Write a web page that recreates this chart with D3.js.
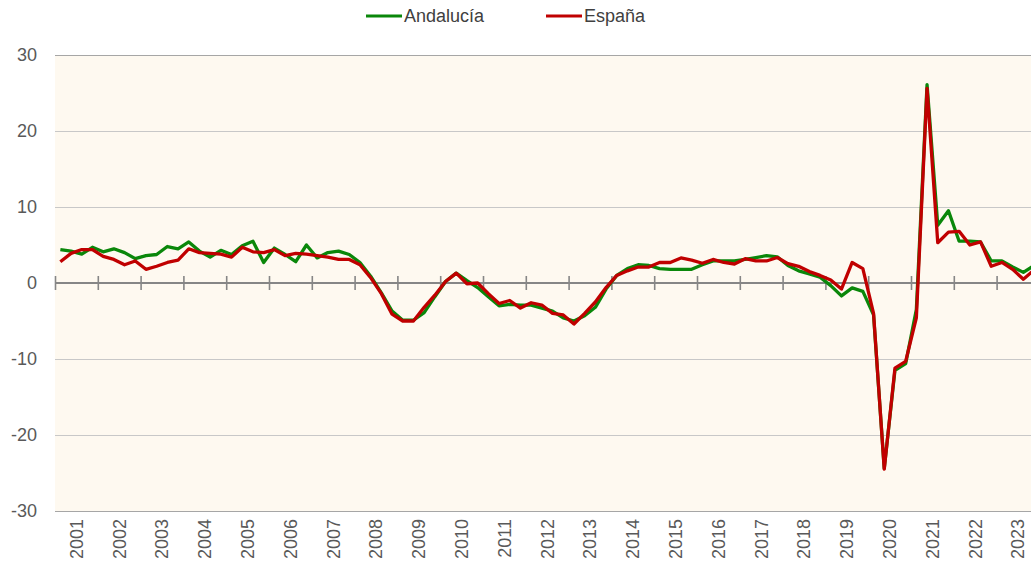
<!DOCTYPE html>
<html>
<head>
<meta charset="utf-8">
<script src="https://cdn.jsdelivr.net/npm/d3@7"></script>
<style>
  body { margin: 0; background: #fff; }
  svg { display: block; font-family: "Liberation Sans", Arial, sans-serif; }
</style>
</head>
<body>
<svg id="chart"></svg>
<script>
const years = d3.range(2001, 2024);
const yTicks = [-30, -20, -10, 0, 10, 20, 30];

// quarterly growth, 2001Q1 .. 2023Q4
const andalucia = [
  4.4, 4.2, 3.8, 4.7,   4.1, 4.5, 4.0, 3.2,   3.6, 3.75, 4.8, 4.5,
  5.4, 4.2, 3.4, 4.3,   3.75, 4.9, 5.5, 2.7,  4.6, 3.75, 2.8, 5.0,
  3.3, 4.0, 4.2, 3.75,  2.7, 0.9, -1.3, -3.7, -4.9, -4.9, -3.9, -1.8,
  0.2, 1.3, 0.3, -0.6,  -1.8, -3.0, -2.8, -2.9, -2.9, -3.3, -3.7, -4.6,
  -5.0, -4.3, -3.2, -0.8, 1.0, 1.9, 2.4, 2.3,  1.9, 1.8, 1.8, 1.8,
  2.4, 2.9, 2.9, 2.9,   3.1, 3.35, 3.6, 3.45, 2.3, 1.6, 1.2, 0.75,
  -0.35, -1.7, -0.65, -1.1, -4.2, -24.4, -11.5, -10.6, -3.5, 26.1, 7.6, 9.5,
  5.5, 5.5, 5.4, 2.9,   2.9, 2.1, 1.4, 2.3
];
const espana = [
  2.8, 3.9, 4.4, 4.4,   3.5, 3.1, 2.4, 2.9,   1.8, 2.2, 2.7, 3.0,
  4.5, 4.0, 3.9, 3.8,   3.4, 4.7, 4.1, 4.0,   4.4, 3.6, 3.9, 3.8,
  3.6, 3.4, 3.1, 3.1,   2.4, 0.7, -1.4, -4.1, -5.0, -5.0, -3.2, -1.6,
  0.2, 1.3, -0.1, 0.0,  -1.4, -2.7, -2.3, -3.3, -2.6, -2.9, -4.0, -4.2,
  -5.4, -4.0, -2.5, -0.6, 1.0, 1.6, 2.1, 2.1,  2.7, 2.7, 3.3, 3.0,
  2.6, 3.1, 2.7, 2.5,   3.2, 2.9, 2.9, 3.35,  2.55, 2.2, 1.5, 1.0,
  0.4, -0.8, 2.7, 1.9,  -4.0, -24.5, -11.2, -10.3, -4.6, 25.6, 5.3, 6.7,
  6.8, 5.0, 5.4, 2.2,   2.7, 1.8, 0.5, 1.7
];

const series = [
  { name: 'Andalucía', values: andalucia, color: '#0a870a' },
  { name: 'España', values: espana, color: '#c00000' }
];

const width = 1031;
const height = 571;
const margin = { top: 55, left: 55, bottom: 60 };
const plotRight = margin.left + years.length * 42.8;

const svg = d3.select('#chart')
  .attr('width', width)
  .attr('height', height);

const x = d3.scaleLinear()
  .domain([0, years.length * 4])
  .range([margin.left, plotRight]);

const y = d3.scaleLinear()
  .domain([-30, 30])
  .range([511, margin.top]);

// plot background
svg.append('rect')
  .attr('x', margin.left)
  .attr('y', y(30))
  .attr('width', plotRight - margin.left)
  .attr('height', y(-30) - y(30))
  .attr('fill', '#fef9f0');

// y axis + gridlines
const yAxis = svg.append('g')
  .attr('transform', `translate(${margin.left},0)`)
  .call(d3.axisLeft(y)
    .tickValues(yTicks)
    .tickFormat(d => String(d))
    .tickSize(-(plotRight - margin.left))
    .tickPadding(18));
yAxis.select('.domain').remove();
yAxis.selectAll('.tick line')
  .attr('stroke', d => (d === 30 || d === -30) ? '#a6a6a6' : '#c8c8c8')
  .attr('stroke-width', 1.2)
  .style('display', d => d === 0 ? 'none' : null);
yAxis.selectAll('.tick text')
  .attr('fill', '#595959')
  .style('font-size', '18px');

// zero axis with year-boundary ticks
svg.append('line')
  .attr('x1', margin.left).attr('x2', plotRight)
  .attr('y1', y(0)).attr('y2', y(0))
  .attr('stroke', '#868686').attr('stroke-width', 2);

const tickAxis = svg.append('g')
  .attr('transform', `translate(0,${y(0) - 7})`)
  .call(d3.axisBottom(x).tickValues(d3.range(0, years.length * 4 + 1, 4)).tickSize(14).tickFormat(''));
tickAxis.select('.domain').remove();
tickAxis.selectAll('.tick line').attr('stroke', '#868686').attr('stroke-width', 1.6);

// year labels
const yearScale = d3.scaleBand().domain(years).range([margin.left, plotRight]);
const labels = svg.append('g')
  .attr('transform', `translate(0,${height - margin.bottom + 8})`)
  .call(d3.axisBottom(yearScale).tickSize(0).tickPadding(0));
labels.select('.domain').remove();
labels.selectAll('.tick text')
  .attr('fill', '#595959')
  .style('font-size', '18px')
  .attr('text-anchor', 'end')
  .attr('dy', '0.35em')
  .attr('transform', 'rotate(-90)')
  .attr('y', 0)
  .attr('x', 0);

// lines
const line = d3.line()
  .x((d, i) => x(i + 0.5))
  .y(d => y(d));

svg.append('g')
  .selectAll('path')
  .data(series)
  .join('path')
  .attr('fill', 'none')
  .attr('stroke', d => d.color)
  .attr('stroke-width', 3.3)
  .attr('stroke-linejoin', 'round')
  .attr('d', d => line(d.values));

// legend
const legend = svg.append('g');
const legendX = [366, 546];
series.forEach((s, i) => {
  const g = legend.append('g').attr('transform', `translate(${legendX[i]},16)`);
  g.append('line').attr('x1', 0).attr('x2', 36).attr('stroke', s.color).attr('stroke-width', 3.2);
  g.append('text')
    .attr('x', 38).attr('dy', '0.35em')
    .attr('fill', '#404040')
    .style('font-size', '18px')
    .text(s.name);
});
</script>
</body>
</html>
